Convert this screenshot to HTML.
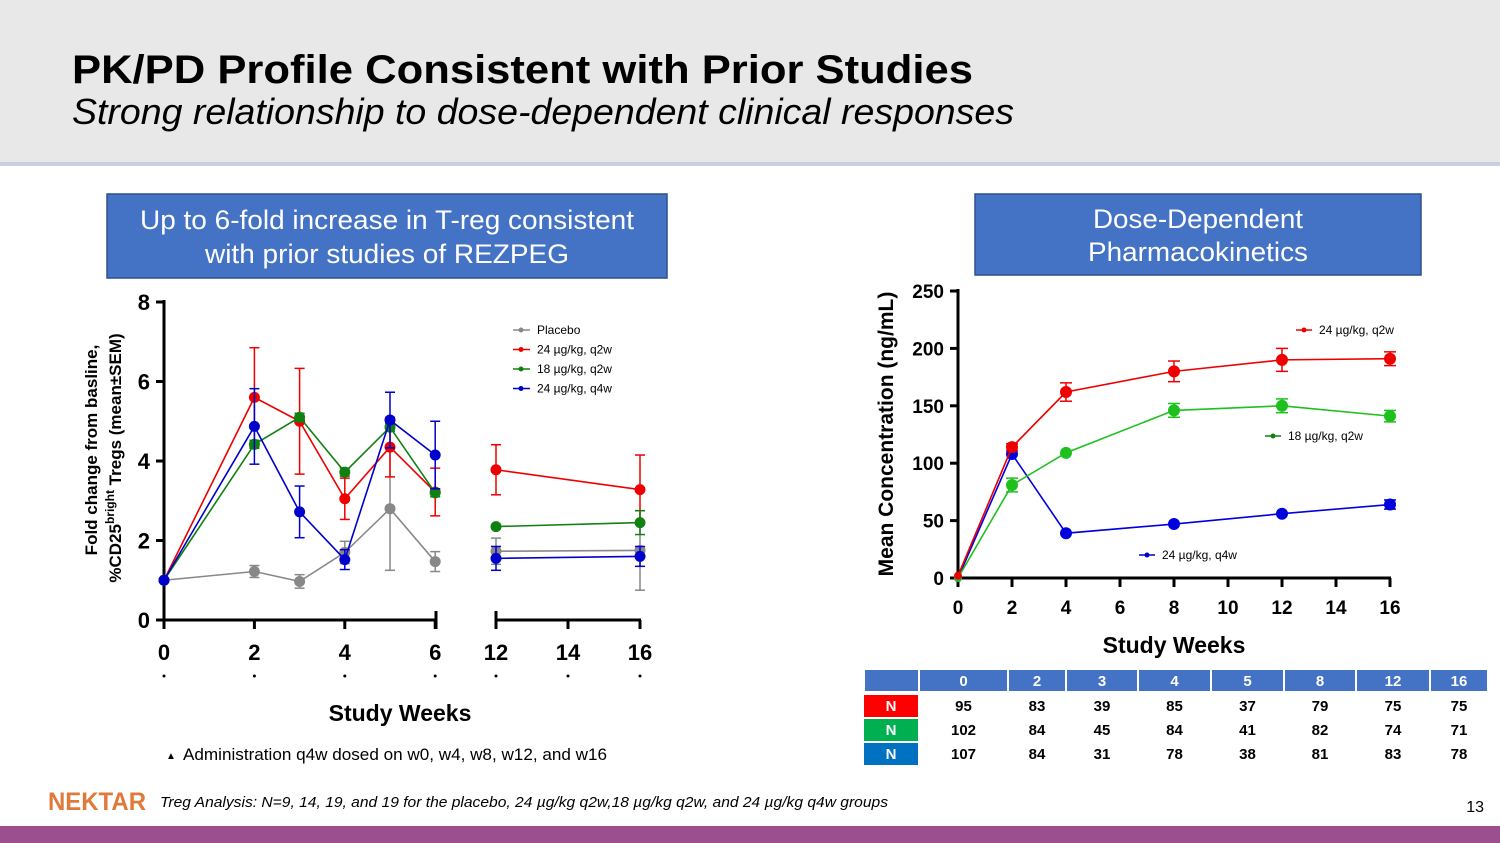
<!DOCTYPE html>
<html><head><meta charset="utf-8"><style>
body{margin:0;width:1500px;height:843px;overflow:hidden;background:#fff;font-family:"Liberation Sans",sans-serif}
svg{position:absolute;left:0;top:0}
</style></head><body>
<svg width="1500" height="843" viewBox="0 0 1500 843">
<rect x="0" y="0" width="1500" height="162" fill="#e8e8e8"/>
<rect x="0" y="162" width="1500" height="4" fill="#c8d0e0"/>
<text x="72" y="83" font-size="40" font-weight="bold" textLength="901" lengthAdjust="spacingAndGlyphs">PK/PD Profile Consistent with Prior Studies</text>
<text x="72" y="124" font-size="36" font-style="italic" textLength="942" lengthAdjust="spacingAndGlyphs">Strong relationship to dose-dependent clinical responses</text>

<rect x="107" y="194" width="560" height="84" fill="#4472c4" stroke="#2f4f8f" stroke-width="1.5"/>
<text x="387" y="229" font-size="27" fill="#fff" text-anchor="middle" textLength="494" lengthAdjust="spacingAndGlyphs">Up to 6-fold increase in T-reg consistent</text>
<text x="387" y="263" font-size="27" fill="#fff" text-anchor="middle" textLength="364" lengthAdjust="spacingAndGlyphs">with prior studies of REZPEG</text>
<rect x="975" y="194" width="446" height="81" fill="#4472c4" stroke="#2f4f8f" stroke-width="1.5"/>
<text x="1198" y="228" font-size="27" fill="#fff" text-anchor="middle" textLength="210" lengthAdjust="spacingAndGlyphs">Dose-Dependent</text>
<text x="1198" y="261" font-size="27" fill="#fff" text-anchor="middle" textLength="220" lengthAdjust="spacingAndGlyphs">Pharmacokinetics</text>

<g id="left"></g>
<g id="right"></g>
<g id="tbl"></g>

<text x="166" y="759" font-size="10">▲</text>
<text x="183" y="760" font-size="17" textLength="424" lengthAdjust="spacingAndGlyphs">Administration q4w dosed on w0, w4, w8, w12, and w16</text>
<text x="48" y="810" font-size="25" font-weight="bold" fill="#e07a3a" textLength="98" lengthAdjust="spacingAndGlyphs">NEKTAR</text>
<text x="160" y="807" font-size="15" font-style="italic" textLength="728" lengthAdjust="spacingAndGlyphs">Treg Analysis: N=9, 14, 19, and 19 for the placebo, 24 µg/kg q2w,18 µg/kg q2w, and 24 µg/kg q4w groups</text>
<text x="1484" y="812" font-size="16" text-anchor="end">13</text>
<rect x="0" y="826" width="1500" height="17" fill="#9b4f8f"/>
</svg>
<script>
const NS="http://www.w3.org/2000/svg";
function mk(p,t,a,txt){const e=document.createElementNS(NS,t);for(const k in a)e.setAttribute(k,a[k]);if(txt!==undefined)e.textContent=txt;p.appendChild(e);return e;}

// ===== Left chart data =====
const tregWeeks=[0,2,3,4,5,6,12,16];
const placeboVals=[1.0,1.22,0.97,1.7,2.8,1.47,1.73,1.75];
const placeboErr=[0,0.15,0.17,0.28,1.55,0.25,0.33,1.0];
const red24q2wVals=[1.0,5.6,5.0,3.05,4.35,3.22,3.78,3.28];
const red24q2wErr=[0,1.25,1.33,0.52,0.75,0.6,0.63,0.87];
const green18q2wVals=[1.0,4.42,5.1,3.72,4.85,3.2,2.35,2.45];
const green18q2wErr=[0,0.1,0.1,0.1,0.1,0.1,0.05,0.3];
const blue24q4wVals=[1.0,4.87,2.72,1.52,5.03,4.15,1.55,1.6];
const blue24q4wErr=[0,0.95,0.65,0.25,0.7,0.85,0.3,0.25];
const tregYTicks=[0,2,4,6,8];
const tregXTicks1=[0,2,4,6];
const tregXTicks2=[12,14,16];

const L=document.getElementById('left');
const ly=v=>620-v*39.75;
const lx=w=>w<=6?164+w*45.2:496+(w-12)*36;
let e=mk(L,'line',{x1:164,y1:300,x2:164,y2:620,stroke:'#000','stroke-width':3});

e=mk(L,'line',{x1:164,y1:620,x2:436,y2:620,stroke:'#000','stroke-width':3});

e=mk(L,'line',{x1:496,y1:620,x2:641,y2:620,stroke:'#000','stroke-width':3});

mk(L,'line',{x1:436,y1:611,x2:436,y2:629,stroke:'#000','stroke-width':3});
mk(L,'line',{x1:496,y1:611,x2:496,y2:629,stroke:'#000','stroke-width':3});
tregYTicks.forEach(t=>{mk(L,'line',{x1:156,y1:ly(t),x2:164,y2:ly(t),stroke:'#000','stroke-width':3});
 const tx=mk(L,'text',{x:150,y:ly(t)+8,'font-size':22,'font-weight':'bold','text-anchor':'end'},t);
 });
tregXTicks1.concat(tregXTicks2).forEach(t=>{mk(L,'line',{x1:lx(t),y1:620,x2:lx(t),y2:629,stroke:'#000','stroke-width':3});
 const tx=mk(L,'text',{x:lx(t),y:660,'font-size':22,'font-weight':'bold','text-anchor':'middle'},t);
 
 mk(L,'circle',{cx:lx(t),cy:676,r:1.5,fill:'#000'});});
e=mk(L,'text',{x:400,y:721,'font-size':23,'font-weight':'bold','text-anchor':'middle'},'Study Weeks');

const yt=mk(L,'text',{transform:'translate(97,450) rotate(-90)','font-size':17,'font-weight':'bold','text-anchor':'middle'},'Fold change from basline,');

const yt2=mk(L,'text',{transform:'translate(121,458) rotate(-90)','font-size':17,'font-weight':'bold','text-anchor':'middle'});

mk(yt2,'tspan',{},'%CD25');mk(yt2,'tspan',{dy:-7,'font-size':12},'bright');mk(yt2,'tspan',{dy:7},' Tregs (mean±SEM)');

function drawL(vals,err,col,name){
 const g=mk(L,'g',{});
 [[0,6],[6,8]].forEach(([a,b])=>{let pts=[];for(let i=a;i<b;i++)pts.push(lx(tregWeeks[i])+','+ly(vals[i]));
  mk(g,'polyline',{points:pts.join(' '),fill:'none',stroke:col,'stroke-width':1.6});});
 vals.forEach((v,i)=>{const x=lx(tregWeeks[i]);
  if(err[i]>0){mk(g,'line',{x1:x,y1:ly(v+err[i]),x2:x,y2:ly(v-err[i]),stroke:col,'stroke-width':1.5});
   mk(g,'line',{x1:x-5,y1:ly(v+err[i]),x2:x+5,y2:ly(v+err[i]),stroke:col,'stroke-width':1.5});
   mk(g,'line',{x1:x-5,y1:ly(v-err[i]),x2:x+5,y2:ly(v-err[i]),stroke:col,'stroke-width':1.5});}
  const c=mk(g,'circle',{cx:x,cy:ly(v),r:5.5,fill:col});});
}
drawL(placeboVals,placeboErr,'#888','series-placebo');
drawL(red24q2wVals,red24q2wErr,'#e00','series-24-q2w');
drawL(green18q2wVals,green18q2wErr,'#108010','series-18-q2w');
drawL(blue24q4wVals,blue24q4wErr,'#00c','series-24-q4w');
[['Placebo','#888'],['24 µg/kg, q2w','#e00'],['18 µg/kg, q2w','#108010'],['24 µg/kg, q4w','#00c']].forEach((d,i)=>{
 const y=330+i*19.5;const g=mk(L,'g',{});
 mk(g,'line',{x1:513,y1:y,x2:530,y2:y,stroke:d[1],'stroke-width':1.5});mk(g,'circle',{cx:521,cy:y,r:2.5,fill:d[1]});
 mk(g,'text',{x:537,y:y+4,'font-size':12},d[0]);});

// ===== Right chart data =====
const pkWeeks=[0,2,4,8,12,16];
const pk24q2w=[2,114,162,180,190,191];
const pk24q2wErr=[0,3,8,9,10,6];
const pk18q2w=[0,81,109,146,150,141];
const pk18q2wErr=[0,6,2,6,6,5];
const pk24q4w=[0,108,39,47,56,64];
const pk24q4wErr=[0,2,2,2,2,4];
const pkYTicks=[0,50,100,150,200,250];
const pkXTicks=[0,2,4,6,8,10,12,14,16];
const R=document.getElementById('right');
const rx=w=>958+w*27;const ry=v=>578-v*1.148;
e=mk(R,'line',{x1:958,y1:289,x2:958,y2:578,stroke:'#000','stroke-width':3});

e=mk(R,'line',{x1:958,y1:578,x2:1391,y2:578,stroke:'#000','stroke-width':3});

pkYTicks.forEach(t=>{mk(R,'line',{x1:950,y1:ry(t),x2:958,y2:ry(t),stroke:'#000','stroke-width':3});
 const tx=mk(R,'text',{x:944,y:ry(t)+7,'font-size':19,'font-weight':'bold','text-anchor':'end'},t);
 });
pkXTicks.forEach(t=>{mk(R,'line',{x1:rx(t),y1:578,x2:rx(t),y2:587,stroke:'#000','stroke-width':3});
 const tx=mk(R,'text',{x:rx(t),y:614,'font-size':19,'font-weight':'bold','text-anchor':'middle'},t);
 });
e=mk(R,'text',{x:1174,y:653,'font-size':23,'font-weight':'bold','text-anchor':'middle'},'Study Weeks');

e=mk(R,'text',{transform:'translate(893,434) rotate(-90)','font-size':21,'font-weight':'bold','text-anchor':'middle'},'Mean Concentration (ng/mL)');

function drawR(vals,err,col,name){
 const g=mk(R,'g',{});
 mk(g,'polyline',{points:vals.map((v,i)=>rx(pkWeeks[i])+','+ry(v)).join(' '),fill:'none',stroke:col,'stroke-width':1.6});
 vals.forEach((v,i)=>{const x=rx(pkWeeks[i]);
  if(err[i]>2){const a=ry(v+err[i]),b=ry(v-err[i]);mk(g,'line',{x1:x,y1:a,x2:x,y2:b,stroke:col,'stroke-width':1.5});
   mk(g,'line',{x1:x-6,y1:a,x2:x+6,y2:a,stroke:col,'stroke-width':1.5});mk(g,'line',{x1:x-6,y1:b,x2:x+6,y2:b,stroke:col,'stroke-width':1.5});}
  const c=mk(g,'circle',{cx:x,cy:ry(v),r:i==0?4:6,fill:col});});
}
drawR(pk24q4w,pk24q4wErr,'#00d','pk-series-24-q4w');
drawR(pk18q2w,pk18q2wErr,'#1ec01e','pk-series-18-q2w');
drawR(pk24q2w,pk24q2wErr,'#e00','pk-series-24-q2w');
[[1296,330,'24 µg/kg, q2w','#e00'],[1265,436,'18 µg/kg, q2w','#108010'],[1139,555,'24 µg/kg, q4w','#00c']].forEach(d=>{
 const g=mk(R,'g',{});
 mk(g,'line',{x1:d[0],y1:d[1],x2:d[0]+16,y2:d[1],stroke:d[3],'stroke-width':1.5});mk(g,'circle',{cx:d[0]+8,cy:d[1],r:2.5,fill:d[3]});
 mk(g,'text',{x:d[0]+23,y:d[1]+4,'font-size':12},d[2]);});

// ===== Table =====
const tblWeeks=['0','2','3','4','5','8','12','16'];
const tblRed=[95,83,39,85,37,79,75,75];
const tblGreen=[102,84,45,84,41,82,74,71];
const tblBlue=[107,84,31,78,38,81,83,78];
const T=document.getElementById('tbl');
const cb=[864,919,1008,1066,1138,1211,1284,1356,1430,1488];
for(let i=0;i<9;i++){const r=mk(T,'rect',{x:cb[i]+1,y:670,width:cb[i+1]-cb[i]-2,height:21,fill:'#4472c4'});
 
 if(i>0)mk(T,'text',{x:(cb[i]+cb[i+1])/2,y:686,'font-size':15,'font-weight':'bold',fill:'#fff','text-anchor':'middle'},tblWeeks[i-1]);}
[[tblRed,'#f00',695],[tblGreen,'#00b050',719],[tblBlue,'#0070c0',743]].forEach(([vals,col,y])=>{
 const r=mk(T,'rect',{x:864,y:y,width:54,height:22,fill:col});
 mk(T,'text',{x:891,y:y+16,'font-size':15,'font-weight':'bold',fill:'#fff','text-anchor':'middle'},'N');
 vals.forEach((v,i)=>{const t=mk(T,'text',{x:(cb[i+1]+cb[i+2])/2,y:y+16,'font-size':15,'font-weight':'bold','text-anchor':'middle'},v);
  });});
</script>
</body></html>
